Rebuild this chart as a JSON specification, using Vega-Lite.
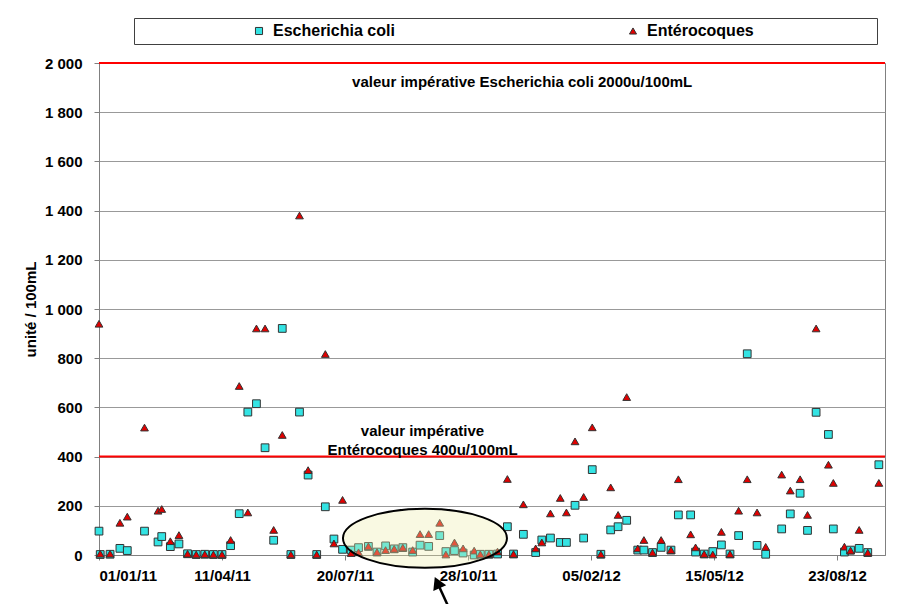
{
  "$schema": "https://vega.github.io/schema/vega-lite/v6.json",
  "width": 786,
  "height": 492,
  "autosize": {"type": "none"},
  "padding": {"left": 99, "top": 63, "right": 26, "bottom": 49},
  "background": "white",
  "config": {
    "font": "Liberation Sans",
    "view": {"stroke": "#808080", "strokeWidth": 1},
    "axis": {
      "labelFont": "Liberation Sans", "labelFontSize": 15, "labelFontWeight": "bold", "labelColor": "black",
      "titleFont": "Liberation Sans", "titleFontSize": 15, "titleFontWeight": "bold", "titleColor": "black",
      "domainColor": "#808080", "tickColor": "#808080", "tickSize": 5, "gridColor": "#999999", "gridOpacity": 1
    }
  },
  "datasets": {
    "obs": [
      {"d":"2011-01-01","g":"Escherichia coli","v":97},{"d":"2011-01-01","g":"Entérocoques","v":940},
      {"d":"2011-01-02","g":"Escherichia coli","v":2},{"d":"2011-01-02","g":"Entérocoques","v":5},
      {"d":"2011-01-10","g":"Escherichia coli","v":3},{"d":"2011-01-10","g":"Entérocoques","v":5},
      {"d":"2011-01-18","g":"Escherichia coli","v":27},{"d":"2011-01-18","g":"Entérocoques","v":131},
      {"d":"2011-01-24","g":"Escherichia coli","v":18},{"d":"2011-01-24","g":"Entérocoques","v":156},
      {"d":"2011-02-07","g":"Escherichia coli","v":97},{"d":"2011-02-07","g":"Entérocoques","v":518},
      {"d":"2011-02-18","g":"Escherichia coli","v":53},{"d":"2011-02-18","g":"Entérocoques","v":180},
      {"d":"2011-02-21","g":"Escherichia coli","v":75},{"d":"2011-02-21","g":"Entérocoques","v":187},
      {"d":"2011-02-28","g":"Escherichia coli","v":34},{"d":"2011-02-28","g":"Entérocoques","v":56},
      {"d":"2011-03-07","g":"Escherichia coli","v":45},{"d":"2011-03-07","g":"Entérocoques","v":81},
      {"d":"2011-03-14","g":"Escherichia coli","v":5},{"d":"2011-03-14","g":"Entérocoques","v":5},
      {"d":"2011-03-21","g":"Escherichia coli","v":2},{"d":"2011-03-21","g":"Entérocoques","v":2},
      {"d":"2011-03-28","g":"Escherichia coli","v":3},{"d":"2011-03-28","g":"Entérocoques","v":3},
      {"d":"2011-04-04","g":"Escherichia coli","v":2},{"d":"2011-04-04","g":"Entérocoques","v":2},
      {"d":"2011-04-11","g":"Escherichia coli","v":2},{"d":"2011-04-11","g":"Entérocoques","v":2},
      {"d":"2011-04-18","g":"Escherichia coli","v":38},{"d":"2011-04-18","g":"Entérocoques","v":61},
      {"d":"2011-04-25","g":"Escherichia coli","v":168},{"d":"2011-04-25","g":"Entérocoques","v":687},
      {"d":"2011-05-02","g":"Escherichia coli","v":581},{"d":"2011-05-02","g":"Entérocoques","v":173},
      {"d":"2011-05-09","g":"Escherichia coli","v":615},{"d":"2011-05-09","g":"Entérocoques","v":921},
      {"d":"2011-05-16","g":"Escherichia coli","v":436},{"d":"2011-05-16","g":"Entérocoques","v":921},
      {"d":"2011-05-23","g":"Escherichia coli","v":60},{"d":"2011-05-23","g":"Entérocoques","v":102},
      {"d":"2011-05-30","g":"Escherichia coli","v":921},{"d":"2011-05-30","g":"Entérocoques","v":488},
      {"d":"2011-06-06","g":"Escherichia coli","v":2},{"d":"2011-06-06","g":"Entérocoques","v":2},
      {"d":"2011-06-13","g":"Escherichia coli","v":581},{"d":"2011-06-13","g":"Entérocoques","v":1380},
      {"d":"2011-06-20","g":"Escherichia coli","v":325},{"d":"2011-06-20","g":"Entérocoques","v":345},
      {"d":"2011-06-27","g":"Escherichia coli","v":2},{"d":"2011-06-27","g":"Entérocoques","v":2},
      {"d":"2011-07-04","g":"Escherichia coli","v":196},{"d":"2011-07-04","g":"Entérocoques","v":817},
      {"d":"2011-07-11","g":"Escherichia coli","v":65},{"d":"2011-07-11","g":"Entérocoques","v":47},
      {"d":"2011-07-18","g":"Escherichia coli","v":23},{"d":"2011-07-18","g":"Entérocoques","v":224},
      {"d":"2011-07-25","g":"Escherichia coli","v":20},{"d":"2011-07-25","g":"Entérocoques","v":8},
      {"d":"2011-07-31","g":"Escherichia coli","v":30},{"d":"2011-07-31","g":"Entérocoques","v":11},
      {"d":"2011-08-08","g":"Escherichia coli","v":35},{"d":"2011-08-08","g":"Entérocoques","v":35},
      {"d":"2011-08-15","g":"Escherichia coli","v":12},{"d":"2011-08-15","g":"Entérocoques","v":12},
      {"d":"2011-08-22","g":"Escherichia coli","v":37},{"d":"2011-08-22","g":"Entérocoques","v":20},
      {"d":"2011-08-29","g":"Escherichia coli","v":25},{"d":"2011-08-29","g":"Entérocoques","v":25},
      {"d":"2011-09-05","g":"Escherichia coli","v":30},{"d":"2011-09-05","g":"Entérocoques","v":30},
      {"d":"2011-09-13","g":"Escherichia coli","v":12},{"d":"2011-09-13","g":"Entérocoques","v":20},
      {"d":"2011-09-19","g":"Escherichia coli","v":40},{"d":"2011-09-19","g":"Entérocoques","v":85},
      {"d":"2011-09-26","g":"Escherichia coli","v":35},{"d":"2011-09-26","g":"Entérocoques","v":85},
      {"d":"2011-10-05","g":"Escherichia coli","v":79},{"d":"2011-10-05","g":"Entérocoques","v":131},
      {"d":"2011-10-10","g":"Escherichia coli","v":14},{"d":"2011-10-10","g":"Entérocoques","v":2},
      {"d":"2011-10-17","g":"Escherichia coli","v":18},{"d":"2011-10-17","g":"Entérocoques","v":51},
      {"d":"2011-10-24","g":"Escherichia coli","v":8},{"d":"2011-10-24","g":"Entérocoques","v":27},
      {"d":"2011-11-02","g":"Escherichia coli","v":0},{"d":"2011-11-02","g":"Entérocoques","v":18},
      {"d":"2011-11-07","g":"Escherichia coli","v":3},{"d":"2011-11-07","g":"Entérocoques","v":3},
      {"d":"2011-11-14","g":"Escherichia coli","v":3},{"d":"2011-11-14","g":"Entérocoques","v":3},
      {"d":"2011-11-21","g":"Escherichia coli","v":4},{"d":"2011-11-21","g":"Entérocoques","v":14},
      {"d":"2011-11-29","g":"Escherichia coli","v":115},{"d":"2011-11-29","g":"Entérocoques","v":309},
      {"d":"2011-12-04","g":"Escherichia coli","v":4},{"d":"2011-12-04","g":"Entérocoques","v":4},
      {"d":"2011-12-12","g":"Escherichia coli","v":84},{"d":"2011-12-12","g":"Entérocoques","v":206},
      {"d":"2011-12-22","g":"Escherichia coli","v":10},{"d":"2011-12-22","g":"Entérocoques","v":27},
      {"d":"2011-12-27","g":"Escherichia coli","v":61},{"d":"2011-12-27","g":"Entérocoques","v":51},
      {"d":"2012-01-03","g":"Escherichia coli","v":69},{"d":"2012-01-03","g":"Entérocoques","v":169},
      {"d":"2012-01-11","g":"Escherichia coli","v":51},{"d":"2012-01-11","g":"Entérocoques","v":232},
      {"d":"2012-01-16","g":"Escherichia coli","v":51},{"d":"2012-01-16","g":"Entérocoques","v":173},
      {"d":"2012-01-23","g":"Escherichia coli","v":202},{"d":"2012-01-23","g":"Entérocoques","v":462},
      {"d":"2012-01-30","g":"Escherichia coli","v":69},{"d":"2012-01-30","g":"Entérocoques","v":236},
      {"d":"2012-02-06","g":"Escherichia coli","v":347},{"d":"2012-02-06","g":"Entérocoques","v":519},
      {"d":"2012-02-13","g":"Escherichia coli","v":3},{"d":"2012-02-13","g":"Entérocoques","v":3},
      {"d":"2012-02-21","g":"Escherichia coli","v":102},{"d":"2012-02-21","g":"Entérocoques","v":275},
      {"d":"2012-02-27","g":"Escherichia coli","v":115},{"d":"2012-02-27","g":"Entérocoques","v":163},
      {"d":"2012-03-05","g":"Escherichia coli","v":141},{"d":"2012-03-05","g":"Entérocoques","v":642},
      {"d":"2012-03-14","g":"Escherichia coli","v":20},{"d":"2012-03-14","g":"Entérocoques","v":27},
      {"d":"2012-03-19","g":"Escherichia coli","v":20},{"d":"2012-03-19","g":"Entérocoques","v":61},
      {"d":"2012-03-26","g":"Escherichia coli","v":10},{"d":"2012-03-26","g":"Entérocoques","v":10},
      {"d":"2012-04-02","g":"Escherichia coli","v":31},{"d":"2012-04-02","g":"Entérocoques","v":61},
      {"d":"2012-04-10","g":"Escherichia coli","v":20},{"d":"2012-04-10","g":"Entérocoques","v":20},
      {"d":"2012-04-16","g":"Escherichia coli","v":163},{"d":"2012-04-16","g":"Entérocoques","v":308},
      {"d":"2012-04-26","g":"Escherichia coli","v":163},{"d":"2012-04-26","g":"Entérocoques","v":84},
      {"d":"2012-04-30","g":"Escherichia coli","v":12},{"d":"2012-04-30","g":"Entérocoques","v":31},
      {"d":"2012-05-07","g":"Escherichia coli","v":4},{"d":"2012-05-07","g":"Entérocoques","v":4},
      {"d":"2012-05-14","g":"Escherichia coli","v":14},{"d":"2012-05-14","g":"Entérocoques","v":2},
      {"d":"2012-05-21","g":"Escherichia coli","v":41},{"d":"2012-05-21","g":"Entérocoques","v":94},
      {"d":"2012-05-28","g":"Escherichia coli","v":4},{"d":"2012-05-28","g":"Entérocoques","v":4},
      {"d":"2012-06-04","g":"Escherichia coli","v":79},{"d":"2012-06-04","g":"Entérocoques","v":180},
      {"d":"2012-06-11","g":"Escherichia coli","v":818},{"d":"2012-06-11","g":"Entérocoques","v":308},
      {"d":"2012-06-19","g":"Escherichia coli","v":39},{"d":"2012-06-19","g":"Entérocoques","v":173},
      {"d":"2012-06-26","g":"Escherichia coli","v":3},{"d":"2012-06-26","g":"Entérocoques","v":33},
      {"d":"2012-07-09","g":"Escherichia coli","v":106},{"d":"2012-07-09","g":"Entérocoques","v":327},
      {"d":"2012-07-16","g":"Escherichia coli","v":167},{"d":"2012-07-16","g":"Entérocoques","v":262},
      {"d":"2012-07-24","g":"Escherichia coli","v":251},{"d":"2012-07-24","g":"Entérocoques","v":308},
      {"d":"2012-07-30","g":"Escherichia coli","v":100},{"d":"2012-07-30","g":"Entérocoques","v":163},
      {"d":"2012-08-06","g":"Escherichia coli","v":580},{"d":"2012-08-06","g":"Entérocoques","v":921},
      {"d":"2012-08-16","g":"Escherichia coli","v":490},{"d":"2012-08-16","g":"Entérocoques","v":367},
      {"d":"2012-08-20","g":"Escherichia coli","v":106},{"d":"2012-08-20","g":"Entérocoques","v":293},
      {"d":"2012-08-29","g":"Escherichia coli","v":12},{"d":"2012-08-29","g":"Entérocoques","v":34},
      {"d":"2012-09-03","g":"Escherichia coli","v":20},{"d":"2012-09-03","g":"Entérocoques","v":18},
      {"d":"2012-09-10","g":"Escherichia coli","v":27},{"d":"2012-09-10","g":"Entérocoques","v":102},
      {"d":"2012-09-17","g":"Escherichia coli","v":10},{"d":"2012-09-17","g":"Entérocoques","v":10},
      {"d":"2012-09-26","g":"Escherichia coli","v":367},{"d":"2012-09-26","g":"Entérocoques","v":293}
    ]
  },
  "layer": [
    {
      "data": {"name": "obs"},
      "mark": {"type": "point", "filled": true, "opacity": 1, "stroke": "#333333", "strokeWidth": 1, "size": 60},
      "encoding": {
        "x": {
          "field": "d", "type": "temporal",
          "scale": {"type": "utc", "domain": [{"year": 2011, "month": 1, "date": 1, "utc": true}, {"year": 2012, "month": 10, "date": 1, "utc": true}]},
          "axis": {
            "title": null, "grid": false, "format": "%d/%m/%y", "labelPadding": 8,
            "values": [
              {"year": 2011, "month": 1, "date": 1, "utc": true},
              {"year": 2011, "month": 4, "date": 11, "utc": true},
              {"year": 2011, "month": 7, "date": 20, "utc": true},
              {"year": 2011, "month": 10, "date": 28, "utc": true},
              {"year": 2012, "month": 2, "date": 5, "utc": true},
              {"year": 2012, "month": 5, "date": 15, "utc": true},
              {"year": 2012, "month": 8, "date": 23, "utc": true}
            ]
          }
        },
        "y": {
          "field": "v", "type": "quantitative",
          "scale": {"domain": [0, 2000]},
          "axis": {
            "title": "unité / 100mL", "grid": true, "labelPadding": 12, "titlePadding": 6,
            "values": [0, 200, 400, 600, 800, 1000, 1200, 1400, 1600, 1800, 2000],
            "labelExpr": "replace(format(datum.value, ','), ',', ' ')"
          }
        },
        "color": {
          "field": "g", "type": "nominal",
          "scale": {"domain": ["Escherichia coli", "Entérocoques"], "range": ["#33e3e3", "#e00000"]},
          "legend": {
            "orient": "none", "legendX": 35, "legendY": -45, "direction": "horizontal", "columns": 2,
            "title": "\u00a0", "titleOrient": "right", "titlePadding": 118, "titleFontSize": 16,
            "padding": 5, "strokeColor": "#404040", "fillColor": "white",
            "labelFont": "Liberation Sans", "labelFontSize": 16, "labelFontWeight": "bold", "labelColor": "black",
            "symbolOffset": 112, "labelOffset": 6, "columnPadding": 118, "symbolSize": 50,
            "symbolStrokeColor": "#333333", "symbolStrokeWidth": 1
          }
        },
        "shape": {
          "field": "g", "type": "nominal",
          "scale": {"domain": ["Escherichia coli", "Entérocoques"], "range": ["square", "triangle-up"]},
          "legend": {
            "orient": "none", "legendX": 35, "legendY": -45, "direction": "horizontal", "columns": 2,
            "title": "\u00a0", "titleOrient": "right", "titlePadding": 118, "titleFontSize": 16,
            "padding": 5, "strokeColor": "#404040", "fillColor": "white",
            "labelFont": "Liberation Sans", "labelFontSize": 16, "labelFontWeight": "bold", "labelColor": "black",
            "symbolOffset": 112, "labelOffset": 6, "columnPadding": 118, "symbolSize": 50,
            "symbolStrokeColor": "#333333", "symbolStrokeWidth": 1
          }
        }
      }
    },
    {
      "data": {"values": [{"v": 2000}, {"v": 400}]},
      "mark": {"type": "rule", "color": "#ff0000", "strokeWidth": 2},
      "encoding": {"y": {"field": "v", "type": "quantitative"}}
    },
    {
      "data": {"values": [{"d": "2011-09-23", "v": 68}]},
      "mark": {"type": "point", "shape": "M -1 0 A 1 0.36 0 1 1 1 0 A 1 0.36 0 1 1 -1 0 Z", "size": 26896, "filled": true, "fill": "#eeeeac", "fillOpacity": 0.35, "opacity": 1, "stroke": "black", "strokeWidth": 2, "strokeOpacity": 1},
      "encoding": {"x": {"field": "d", "type": "temporal"}, "y": {"field": "v", "type": "quantitative"}}
    },
    {
      "data": {"values": [
        {"d": "2011-12-11", "v": 1923, "t": "valeur impérative Escherichia coli 2000u/100mL"},
        {"d": "2011-09-21", "v": 506, "t": "valeur impérative\nEntérocoques 400u/100mL"}
      ]},
      "mark": {"type": "text", "font": "Liberation Sans", "fontSize": 15, "fontWeight": "bold", "color": "black", "align": "center", "baseline": "middle", "lineBreak": "\n", "lineHeight": 19},
      "encoding": {"x": {"field": "d", "type": "temporal"}, "y": {"field": "v", "type": "quantitative"}, "text": {"field": "t"}}
    },
    {
      "data": {"values": [{"d": "2011-10-03", "v": -112, "d2": "2011-10-17", "v2": -264}]},
      "mark": {"type": "rule", "color": "black", "strokeWidth": 2.5},
      "encoding": {"x": {"field": "d", "type": "temporal"}, "y": {"field": "v", "type": "quantitative"}, "x2": {"field": "d2"}, "y2": {"field": "v2"}}
    },
    {
      "data": {"values": [{"d": "2011-10-03", "v": -112}]},
      "mark": {"type": "point", "shape": "triangle-up", "size": 200, "angle": -24, "filled": true, "color": "black", "opacity": 1},
      "encoding": {"x": {"field": "d", "type": "temporal"}, "y": {"field": "v", "type": "quantitative"}}
    }
  ]
}
